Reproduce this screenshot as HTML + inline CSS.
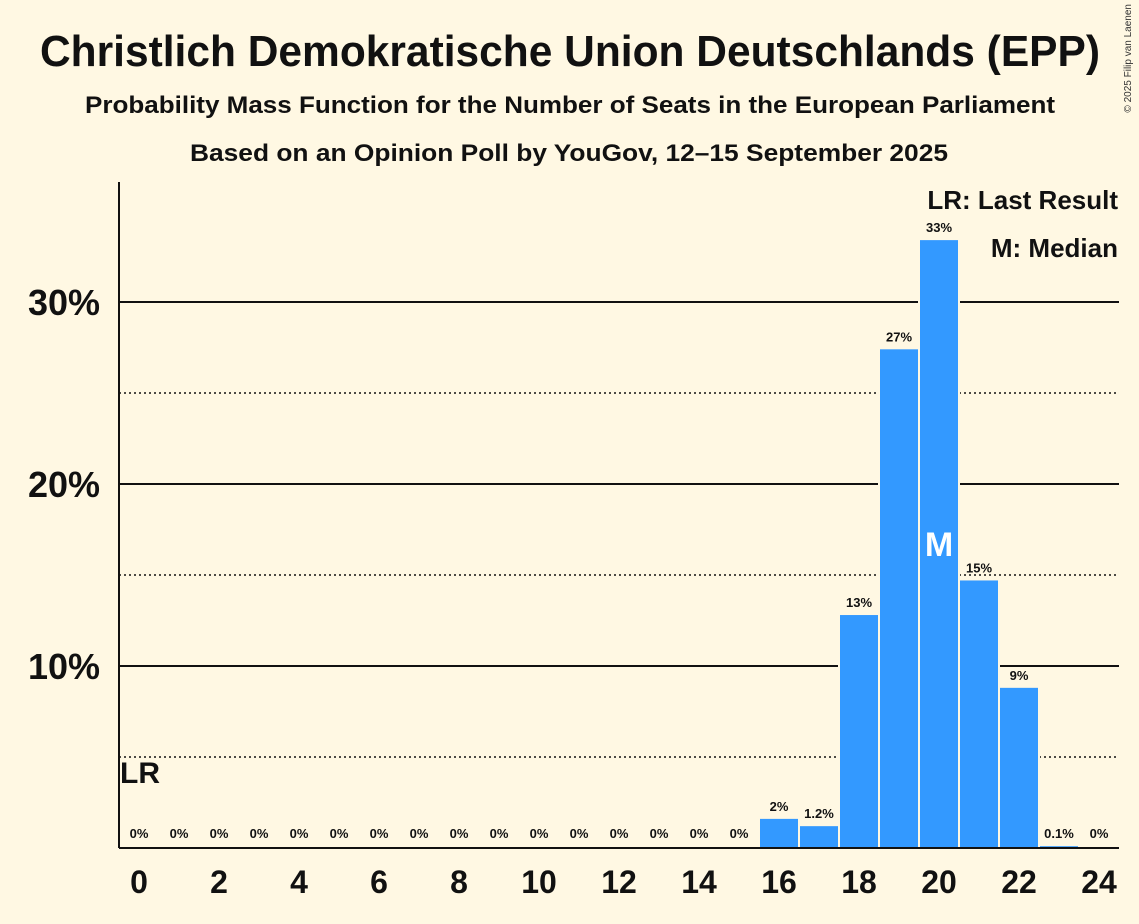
<!DOCTYPE html>
<html><head><meta charset="utf-8"><style>
body{margin:0;background:#fff8e3;}
svg{display:block;font-family:"Liberation Sans",sans-serif;}
</style></head><body>
<svg id="chart" width="1139" height="924" viewBox="0 0 1139 924">
<rect width="1139" height="924" fill="#fff8e3"/>
<text x="40" y="66" font-size="44" font-weight="bold" fill="#111" textLength="1060" lengthAdjust="spacingAndGlyphs">Christlich Demokratische Union Deutschlands (EPP)</text>
<text x="85" y="113" font-size="24" font-weight="bold" fill="#111" textLength="970" lengthAdjust="spacingAndGlyphs">Probability Mass Function for the Number of Seats in the European Parliament</text>
<text x="190" y="161" font-size="24" font-weight="bold" fill="#111" textLength="758" lengthAdjust="spacingAndGlyphs">Based on an Opinion Poll by YouGov, 12–15 September 2025</text>
<text x="1131" y="4" font-size="10" fill="#333" transform="rotate(-90 1131 4)" text-anchor="end">© 2025 Filip van Laenen</text>
<g id="grid"></g>
<g id="bars"></g>
<g id="labels"></g>
<line x1="119" y1="182" x2="119" y2="848" stroke="#111" stroke-width="2"/>
<line x1="119" y1="848" x2="1119" y2="848" stroke="#111" stroke-width="2"/>
<text x="1118" y="209" text-anchor="end" font-size="26" font-weight="bold" fill="#111">LR: Last Result</text>
<text x="1118" y="257" text-anchor="end" font-size="26" font-weight="bold" fill="#111">M: Median</text>
<text x="120" y="783" font-size="30" font-weight="bold" fill="#111">LR</text>
</svg>
<script>
const seats=[0,1,2,3,4,5,6,7,8,9,10,11,12,13,14,15,16,17,18,19,20,21,22,23,24];
const probs=[0,0,0,0,0,0,0,0,0,0,0,0,0,0,0,0,1.6,1.2,12.8,27.4,33.4,14.7,8.8,0.1,0];
const valueLabels=["0%","0%","0%","0%","0%","0%","0%","0%","0%","0%","0%","0%","0%","0%","0%","0%","2%","1.2%","13%","27%","33%","15%","9%","0.1%","0%"];
const yTicks=[10,20,30];
const yMinor=[5,15,25];
const xTickLabels=[0,2,4,6,8,10,12,14,16,18,20,22,24];
const medianSeat=20;
const NS="http://www.w3.org/2000/svg";
const x=s=>139+(s-0)*40;
const y=v=>848-v*18.2;
function mk(t,a,p){const e=document.createElementNS(NS,t);for(const k in a)e.setAttribute(k,a[k]);p.appendChild(e);return e;}
const grid=document.getElementById('grid'),bars=document.getElementById('bars'),labels=document.getElementById('labels');
yMinor.forEach(v=>{const l=mk('line',{x1:119,x2:1119,y1:y(v),y2:y(v),stroke:'#111','stroke-width':1.5,'stroke-dasharray':'2,3'},grid);

});
yTicks.forEach(v=>{const l=mk('line',{x1:119,x2:1119,y1:y(v),y2:y(v),stroke:'#111','stroke-width':2},grid);


const t=mk('text',{x:100,y:y(v)+13,'text-anchor':'end','font-size':36,'font-weight':'bold',fill:'#111'},labels);t.textContent=v+'%';

});
seats.forEach((s,i)=>{const p=probs[i];
if(p>0){mk('rect',{x:x(s)-21,y:y(p)-2,width:42,height:848-y(p)+2,fill:'#fff8e3'},bars);
const r=mk('rect',{x:x(s)-19,y:y(p),width:38,height:848-y(p),fill:'#3399ff'},bars);

}
const t=mk('text',{x:x(s),y:(p>0.5?y(p)-8:838),'text-anchor':'middle','font-size':13,'font-weight':'bold',fill:'#111'},labels);t.textContent=valueLabels[i];


if(s===medianSeat){const m=mk('text',{x:x(s),y:y(p/2)+12,'text-anchor':'middle','font-size':34,'font-weight':'bold',fill:'#fff'},labels);m.textContent='M';

}});
xTickLabels.forEach(s=>{const t=mk('text',{x:x(s),y:893,'text-anchor':'middle','font-size':32,'font-weight':'bold',fill:'#111'},labels);t.textContent=s;

});
</script>
</body></html>
